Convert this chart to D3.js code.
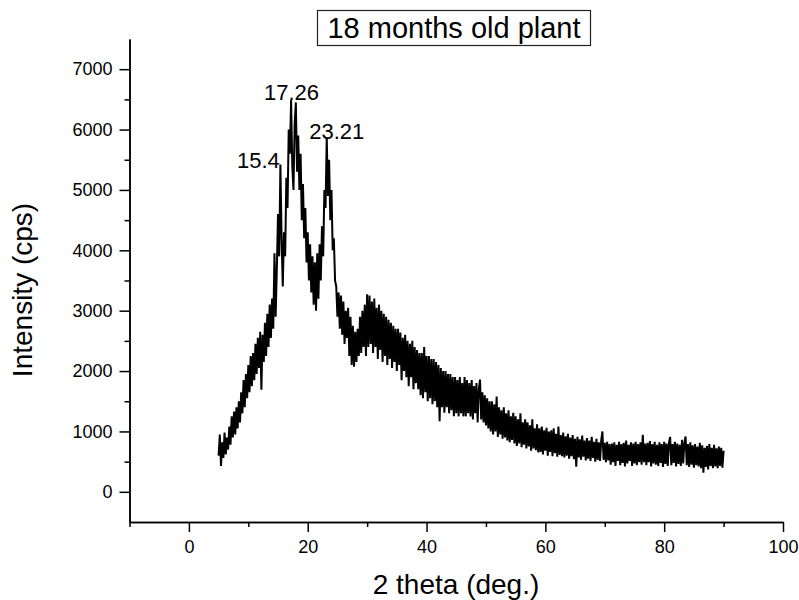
<!DOCTYPE html>
<html>
<head>
<meta charset="utf-8">
<script src="https://d3js.org/d3.v7.min.js"></script>
<style>
  body { margin: 0; background: #fff; }
  text { font-family: "Liberation Sans", Arial, sans-serif; fill: #000; }
</style>
</head>
<body>
<div id="chart-container"></div>
<script>
// scan settings (2 theta, deg.)
const scanStart = 5;
const scanStep = 0.2;

// intensity (cps), one value per step
const intensity = [
  600, 950, 430, 820, 560, 980, 620, 900, 700, 1080,
  780, 1250, 900, 1330, 950, 1400, 1050, 1500, 1150, 1650,
  1300, 1850, 1400, 1950, 1550, 2100, 1650, 2250, 1750, 2300,
  1850, 2450, 1950, 2550, 2050, 2650, 1690, 2600, 2150, 2800,
  2250, 2950, 2400, 3100, 2550, 3200, 2700, 3950, 2900, 3700,
  4600, 3900, 5420, 4200, 3400, 4300, 3900, 5200, 4700, 6000,
  5600, 6490, 5400, 5000, 6100, 6450, 5300, 5900, 5000, 5600,
  4500, 5100, 4200, 4700, 3800, 4300, 3500, 4100, 3300, 3900,
  3100, 3800, 3000, 3950, 3200, 4100, 3500, 4400, 3900, 5000,
  4700, 5870, 4900, 5500, 4500, 5000, 4000, 4200, 3500, 3400,
  2900, 3300, 2700, 3250, 2600, 3150, 2450, 3000, 2550, 3050,
  2250, 2900, 2100, 2750, 2070, 2650, 2150, 2700, 2250, 2900,
  2300, 3000, 2400, 3100, 2250, 3270, 2400, 3250, 2450, 3150,
  2300, 3200, 2400, 3050, 2200, 3100, 2350, 3000, 2150, 2950,
  2250, 2900, 2100, 2850, 2200, 2800, 2050, 2750, 2150, 2700,
  2000, 2700, 2100, 2640, 1850, 2550, 2000, 2600, 1900, 2500,
  1750, 2450, 1900, 2500, 1700, 2400, 1800, 2350, 1700, 2300,
  1600, 2300, 1550, 2400, 1650, 2250, 1500, 2250, 1550, 2200,
  1450, 2200, 1500, 2150, 1400, 2100, 1170, 2050, 1400, 2000,
  1310, 2000, 1400, 1950, 1300, 1950, 1350, 1900, 1250, 1900,
  1300, 1850, 1250, 1900, 1300, 1800, 1250, 1900, 1250, 1850,
  1300, 1800, 1250, 1850, 1200, 1750, 1300, 1800, 1150, 1700,
  1860, 1200, 1650, 1150, 1600, 1100, 1550, 1050, 1500, 1000,
  1500, 950, 1450, 1000, 1580, 910, 1400, 950, 1350, 880,
  1400, 900, 1300, 850, 1350, 820, 1250, 860, 1310, 800,
  1250, 760, 1200, 800, 1300, 740, 1150, 780, 1200, 720,
  1150, 750, 1100, 680, 1200, 720, 1050, 690, 1120, 650,
  1050, 660, 1080, 620, 1020, 680, 1060, 600, 1000, 660,
  1020, 590, 1050, 640, 960, 580, 1080, 610, 940, 590,
  980, 570, 920, 600, 960, 550, 900, 590, 940, 540,
  880, 415, 910, 570, 870, 530, 930, 580, 850, 520,
  890, 550, 850, 510, 910, 560, 830, 500, 880, 530,
  820, 510, 850, 1000, 530, 810, 490, 830, 520, 790,
  450, 800, 490, 820, 430, 780, 510, 830, 440, 790,
  480, 810, 420, 850, 470, 780, 510, 820, 430, 800,
  470, 830, 440, 790, 490, 820, 450, 945, 490, 800,
  440, 810, 490, 840, 420, 790, 470, 830, 450, 780,
  430, 820, 480, 790, 410, 830, 460, 800, 430, 810,
  910, 440, 790, 480, 830, 420, 800, 460, 780, 430,
  860, 470, 810, 917, 440, 790, 410, 820, 450, 770,
  400, 790, 440, 750, 420, 810, 390, 770, 315, 730,
  410, 760, 370, 790, 430, 730, 390, 780, 420, 720,
  390, 750, 430, 730, 400, 680
];

// labelled peaks
const peakAngles = [15.4, 17.26, 23.21];
const peakTops = [5420, 6490, 5870];
const peakLabels = ["15.4", "17.26", "23.21"];

const xMajorTicks = [0, 20, 40, 60, 80, 100];
const xMinorTicks = [-10, 10, 30, 50, 70, 90];
const yMajorTicks = [0, 1000, 2000, 3000, 4000, 5000, 6000, 7000];
const yMinorTicks = [500, 1500, 2500, 3500, 4500, 5500, 6500];

const titleText = "18 months old plant";
const xTitle = "2 theta (deg.)";
const yTitle = "Intensity (cps)";

const width = 799;
const height = 600;

const svg = d3.select("#chart-container")
    .append("svg")
    .attr("width", width)
    .attr("height", height);

const xScale = d3.scaleLinear().domain([-10, 100]).range([129.5, 783]);
const yScale = d3.scaleLinear().domain([-500, 7500]).range([522, 39]);

const points = intensity.map((v, i) => ({ angle: scanStart + i * scanStep, value: v }));

// the scan
const line = d3.line()
    .x(d => xScale(d.angle))
    .y(d => yScale(d.value));

svg.append("path")
    .datum(points)
    .attr("fill", "none")
    .attr("stroke", "#000")
    .attr("stroke-width", 2)
    .attr("stroke-linejoin", "bevel")
    .attr("d", line);

// axes
const x0 = yScale(-500);
const y0 = xScale(-10);

svg.append("g")
    .attr("transform", `translate(0, ${x0})`)
    .call(d3.axisBottom(xScale).tickValues(xMinorTicks).tickSize(5).tickSizeOuter(0).tickFormat(""));

svg.append("g")
    .attr("class", "x-axis")
    .attr("transform", `translate(0, ${x0})`)
    .call(d3.axisBottom(xScale).tickValues(xMajorTicks).tickSize(10).tickSizeOuter(0)
        .tickPadding(8.7).tickFormat(d3.format("d")));

svg.append("g")
    .attr("transform", `translate(${y0}, 0)`)
    .call(d3.axisLeft(yScale).tickValues(yMinorTicks).tickSize(5).tickSizeOuter(0).tickFormat(""));

svg.append("g")
    .attr("class", "y-axis")
    .attr("transform", `translate(${y0}, 0)`)
    .call(d3.axisLeft(yScale).tickValues(yMajorTicks).tickSize(10).tickSizeOuter(0)
        .tickPadding(7).tickFormat(d3.format("d")));

svg.selectAll(".domain, .tick line")
    .attr("stroke", "#000")
    .attr("stroke-width", 1.5);

svg.selectAll(".x-axis text, .y-axis text")
    .style("font-family", "'Liberation Sans', Arial, sans-serif")
    .style("font-size", "18px");

// peak labels
const peakOffsets = [[-22, 3], [0, 0], [10, 2]];
svg.selectAll(".peak-label")
    .data(peakAngles)
    .enter()
    .append("text")
    .attr("class", "peak-label")
    .attr("x", (d, i) => xScale(d) + peakOffsets[i][0])
    .attr("y", (d, i) => yScale(peakTops[i]) + peakOffsets[i][1])
    .attr("text-anchor", "middle")
    .style("font-size", "22px")
    .text((d, i) => peakLabels[i]);

// title in a box
svg.append("rect")
    .attr("x", 317.5)
    .attr("y", 10.5)
    .attr("width", 273)
    .attr("height", 35)
    .attr("fill", "none")
    .attr("stroke", "#222")
    .attr("stroke-width", 1.2);

svg.append("text")
    .attr("x", 454)
    .attr("y", 38)
    .attr("text-anchor", "middle")
    .style("font-size", "29px")
    .text(titleText);

// axis titles
svg.append("text")
    .attr("x", 456)
    .attr("y", 594)
    .attr("text-anchor", "middle")
    .style("font-size", "28px")
    .text(xTitle);

svg.append("text")
    .attr("transform", "translate(32, 290) rotate(-90)")
    .attr("text-anchor", "middle")
    .style("font-size", "28px")
    .text(yTitle);
</script>
</body>
</html>
